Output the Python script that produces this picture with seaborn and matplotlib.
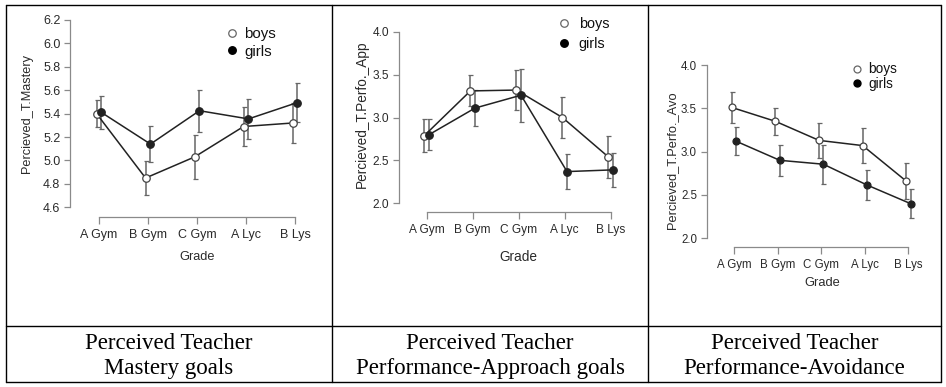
#!/usr/bin/env python3

"""Perceived teacher goals by grade and sex, three panels in a captioned table."""

import matplotlib.pyplot as plt
import pandas as pd
import seaborn as sns
from matplotlib.lines import Line2D

sns.set_theme(style="ticks")
plt.rcParams["font.family"] = ["Liberation Sans", "DejaVu Sans"]

grades = ["A Gym", "B Gym", "C Gym", "A Lyc", "B Lys"]
sexes = ["boys", "girls"]

mastery_boys = [5.40, 4.85, 5.03, 5.29, 5.32]
mastery_boys_err = [0.115, 0.148, 0.185, 0.17, 0.167]
mastery_girls = [5.41, 5.14, 5.425, 5.355, 5.495]
mastery_girls_err = [0.137, 0.157, 0.18, 0.168, 0.163]

approach_boys = [2.79, 3.31, 3.32, 3.00, 2.54]
approach_boys_err = [0.19, 0.18, 0.23, 0.235, 0.25]
approach_girls = [2.80, 3.11, 3.26, 2.37, 2.39]
approach_girls_err = [0.18, 0.205, 0.31, 0.205, 0.20]

avoid_boys = [3.51, 3.35, 3.13, 3.07, 2.66]
avoid_boys_err = [0.175, 0.155, 0.20, 0.20, 0.21]
avoid_girls = [3.12, 2.90, 2.855, 2.615, 2.40]
avoid_girls_err = [0.16, 0.18, 0.225, 0.177, 0.17]

ylabels = ["Percieved_T.Mastery", "Percieved_T.Perfo._App", "Percieved_T.Perfo._Avo"]
yticks = [
    [4.6, 4.8, 5.0, 5.2, 5.4, 5.6, 5.8, 6.0, 6.2],
    [2.0, 2.5, 3.0, 3.5, 4.0],
    [2.0, 2.5, 3.0, 3.5, 4.0],
]
captions = [
    ("Perceived Teacher", "Mastery goals"),
    ("Perceived Teacher", "Performance-Approach goals"),
    ("Perceived Teacher", "Performance-Avoidance"),
]

W, H = 946, 387
INK = "#2a2a2a"
AXIS = "#8a8a8a"


def px_box(left, right, top, bottom):
    """Pixel box -> figure fraction rect."""
    return [left / W, 1 - bottom / H, (right - left) / W, (bottom - top) / H]


def panel(fig, rect, xlim, ylim, series, ylabel, ticks, cfg):
    ax = fig.add_axes(rect)
    (mb, eb), (mg, eg) = series
    df = pd.DataFrame(
        {
            "grade": grades * 2,
            "sex": ["boys"] * 5 + ["girls"] * 5,
            "value": list(mb) + list(mg),
        }
    )
    sns.pointplot(
        data=df, x="grade", y="value", hue="sex", order=grades, hue_order=sexes,
        palette=["#222222", "#222222"], dodge=0.1, errorbar=None, markers="o",
        markersize=cfg["ms"], linewidth=1.1, legend=False, ax=ax,
    )
    lines = ax.lines[:2]
    lines[0].set_markerfacecolor("white")
    lines[0].set_markeredgecolor("#444444")
    for line, err in zip(lines, (eb, eg)):
        line.set_zorder(3)
        line.set_markeredgewidth(0.9)
        ax.errorbar(
            line.get_xdata(), line.get_ydata(), yerr=err, fmt="none",
            ecolor="#666666", elinewidth=1.1, capsize=1.8, capthick=0.9, zorder=2,
        )

    ax.set_xlim(*xlim)
    ax.set_ylim(*ylim)
    ax.set_yticks(ticks)
    ax.set_yticklabels([f"{t:.1f}" for t in ticks])
    sns.despine(ax=ax)
    ax.spines["left"].set_bounds(ticks[0], ticks[-1])
    ax.spines["bottom"].set_bounds(0, 4)
    for sp in ("left", "bottom"):
        ax.spines[sp].set_color(AXIS)
        ax.spines[sp].set_linewidth(0.9)
    ax.tick_params(
        axis="both", colors=AXIS, labelcolor=INK, labelsize=cfg["tick"],
        length=4, width=0.9,
    )
    ax.tick_params(axis="x", length=5, pad=4)
    ax.tick_params(axis="y", pad=3)

    ax.set_xlabel("Grade", fontsize=cfg["lab"], color=INK, va="center")
    ax.xaxis.set_label_coords(*cfg["xlab"])
    ax.set_ylabel(ylabel, fontsize=cfg["lab"], color=INK, va="center")
    ax.yaxis.set_label_coords(*cfg["ylab"])

    handles = [
        Line2D([], [], ls="none", marker="o", ms=cfg["ms"], mfc="white",
               mec="#666666", mew=0.9),
        Line2D([], [], ls="none", marker="o", ms=cfg["ms"], mfc="black",
               mec="black"),
    ]
    ax.legend(
        handles, sexes, loc="upper left", bbox_to_anchor=cfg["leg"], frameon=False,
        fontsize=cfg["legfs"], handlelength=1.0, handletextpad=cfg["hpad"],
        labelspacing=cfg["lsp"], borderpad=0, borderaxespad=0,
    )
    for t in ax.get_legend().get_texts():
        t.set_color("#111111")
    return ax


def main():
    fig = plt.figure(figsize=(W / 100, H / 100), dpi=100)

    panel(
        fig, px_box(70, 310, 20, 217), (-0.592, 4.306), (4.517, 6.2),
        ((mastery_boys, mastery_boys_err), (mastery_girls, mastery_girls_err)),
        ylabels[0], yticks[0],
        dict(ms=5.4, tick=9.0, lab=9.2, xlab=(0.529, -0.203), ylab=(-0.179, 0.523),
             leg=(0.645, 0.965), legfs=10.8, hpad=0.3, lsp=0.25),
    )
    panel(
        fig, px_box(399, 625, 31.7, 212), (-0.602, 4.31), (1.899, 4.0),
        ((approach_boys, approach_boys_err), (approach_girls, approach_girls_err)),
        ylabels[1], yticks[1],
        dict(ms=5.4, tick=8.6, lab=9.8, xlab=(0.53, -0.25), ylab=(-0.164, 0.544),
             leg=(0.696, 1.08), legfs=10.4, hpad=0.55, lsp=0.4),
    )
    panel(
        fig, px_box(706.7, 921.5, 65, 246.7), (-0.626, 4.3), (1.903, 4.0),
        ((avoid_boys, avoid_boys_err), (avoid_girls, avoid_girls_err)),
        ylabels[2], yticks[2],
        dict(ms=5.0, tick=8.3, lab=9.3, xlab=(0.537, -0.2), ylab=(-0.163, 0.477),
             leg=(0.669, 1.015), legfs=9.8, hpad=0.3, lsp=0.05),
    )

    # table frame around the three panels and their captions
    def hline(y, x0=6, x1=941):
        fig.add_artist(Line2D([x0 / W, x1 / W], [1 - y / H, 1 - y / H],
                              color="black", lw=1.0))

    def vline(x, y0=5, y1=382):
        fig.add_artist(Line2D([x / W, x / W], [1 - y0 / H, 1 - y1 / H],
                              color="black", lw=1.0))

    for y in (5, 326, 382):
        hline(y)
    for x in (6, 332, 648, 941):
        vline(x)

    centers = (169, 490, 794.5)
    for cx, (l1, l2) in zip(centers, captions):
        for text, base in ((l1, 349), (l2, 374)):
            fig.text(cx / W, 1 - base / H, text, ha="center", va="baseline",
                     fontsize=16.5, family=["Liberation Serif", "DejaVu Serif"],
                     color="black")

    fig.savefig("out.png", dpi=100, facecolor="white")
    plt.close(fig)


if __name__ == "__main__":
    main()
